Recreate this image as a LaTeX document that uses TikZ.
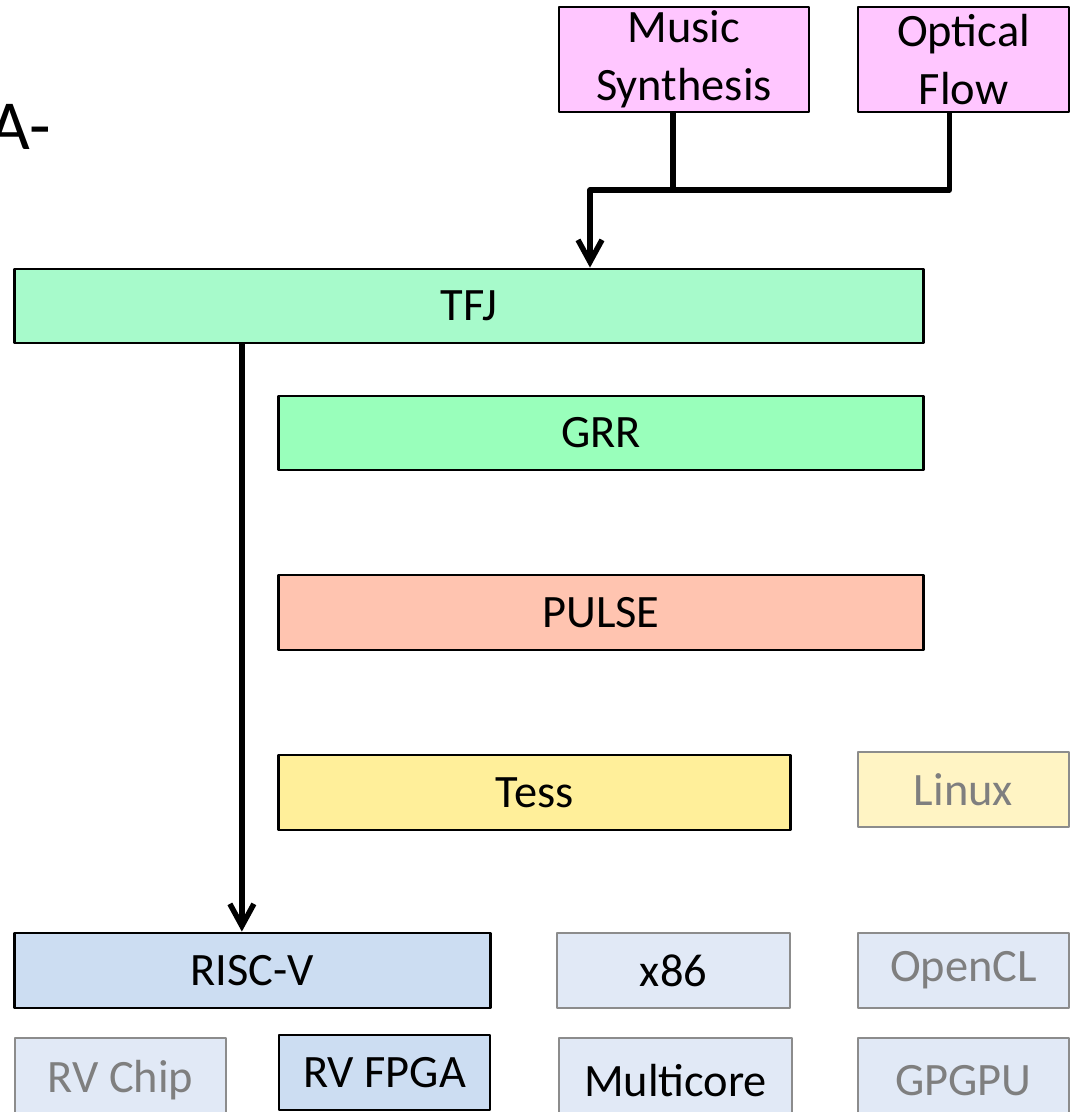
\documentclass[tikz,border=0pt]{standalone}
\usepackage{fontspec}
\setmainfont{Carlito}
\usepackage{tikz}
\usetikzlibrary{arrows.meta}

\definecolor{apppink}{HTML}{FFC6FF}
\definecolor{tfjgreen}{HTML}{A7FACB}
\definecolor{grrgreen}{HTML}{99FFBB}
\definecolor{pulsered}{HTML}{FFC4B0}
\definecolor{tessyellow}{HTML}{FFEF9A}
\definecolor{linuxyellow}{HTML}{FFF4C4}
\definecolor{rvblue}{HTML}{CCDDF2}
\definecolor{hwblue}{HTML}{E1E9F6}
\definecolor{dimline}{HTML}{8C8C8C}
\definecolor{dimtext}{HTML}{7F7F7F}

\begin{document}
\begin{tikzpicture}[x=0.01cm, y=-0.01cm, line join=round,
	font=\fontsize{13.2}{16.4}\selectfont,
	box/.style={draw, line width=0.8pt, inner sep=0pt, align=center},
	dim/.style={draw=dimline, text=dimtext},
	wire/.style={line width=1.55pt},
	tip/.style={-{Straight Barb[length=2.2mm, width=2.4mm]}}]
	% 1. Khung và cắt
	\useasboundingbox (0,0) rectangle (1076,1112);
	\clip (0,0) rectangle (1076,1112);
	
	% 2. Phần chữ bị cắt ở bên trái
	\node[anchor=base east, inner sep=0pt, font=\fontsize{20}{24}\selectfont] (frag) at (52,149) {A-};
	
	% 3. Ứng dụng
	\node[box, fill=apppink, minimum width=2.5cm, minimum height=1.05cm] (mus) at (684,59.5) {Music\\Synthesis};
	\node[box, fill=apppink, minimum width=2.11cm, minimum height=1.05cm] (opt) at (963.5,59.5) {Optical\\Flow};
	
	% 4. Các tầng phần mềm
	\node[box, fill=tfjgreen, minimum width=9.08cm, minimum height=0.74cm] (tfj) at (469,306) {TFJ};
	\node[box, fill=grrgreen, minimum width=6.44cm, minimum height=0.74cm] (grr) at (601,433) {GRR};
	\node[box, fill=pulsered, minimum width=6.44cm, minimum height=0.75cm] (pulse) at (601,612.5) {PULSE};
	\node[box, fill=tessyellow, minimum width=5.11cm, minimum height=0.75cm] (tess) at (534.5,792.5) {Tess};
	\node[box, dim, fill=linuxyellow, minimum width=2.11cm, minimum height=0.75cm] (linux) at (963.5,789.5) {Linux};
	
	% 5. Phần cứng
	\node[box, fill=rvblue, minimum width=4.75cm, minimum height=0.75cm] (riscv) at (252.5,970.5) {RISC-V};
	\node[box, draw=dimline, fill=hwblue, minimum width=2.33cm, minimum height=0.75cm] (x86) at (673.5,970.5) {x86};
	\node[box, dim, fill=hwblue, minimum width=2.11cm, minimum height=0.75cm] (opencl) at (963.5,970.5) {OpenCL};
	\node[box, dim, fill=hwblue, minimum width=2.11cm, minimum height=0.85cm] (rvchip) at (120.5,1080.5) {RV Chip};
	\node[box, fill=rvblue, minimum width=2.11cm, minimum height=0.75cm] (rvfpga) at (384.5,1072.5) {RV FPGA};
	\node[box, draw=dimline, fill=hwblue, minimum width=2.33cm, minimum height=0.85cm] (multi) at (675.5,1080.5) {Multicore};
	\node[box, dim, fill=hwblue, minimum width=2.11cm, minimum height=0.85cm] (gpgpu) at (963.5,1080.5) {GPGPU};
	
	% 6. Mũi tên
	\coordinate (bus) at (590,190);
	\draw[wire, tip] ([xshift=-1.4mm]opt.south) |- (bus) -- (bus |- tfj.north);
	\draw[wire] ([xshift=-1.1mm]mus.south) -- ([xshift=-1.1mm]mus.south |- bus);
	\draw[wire, tip] ([xshift=-2.27cm]tfj.south) -- ([xshift=-2.27cm]tfj.south |- riscv.north);
\end{tikzpicture}
\end{document}
